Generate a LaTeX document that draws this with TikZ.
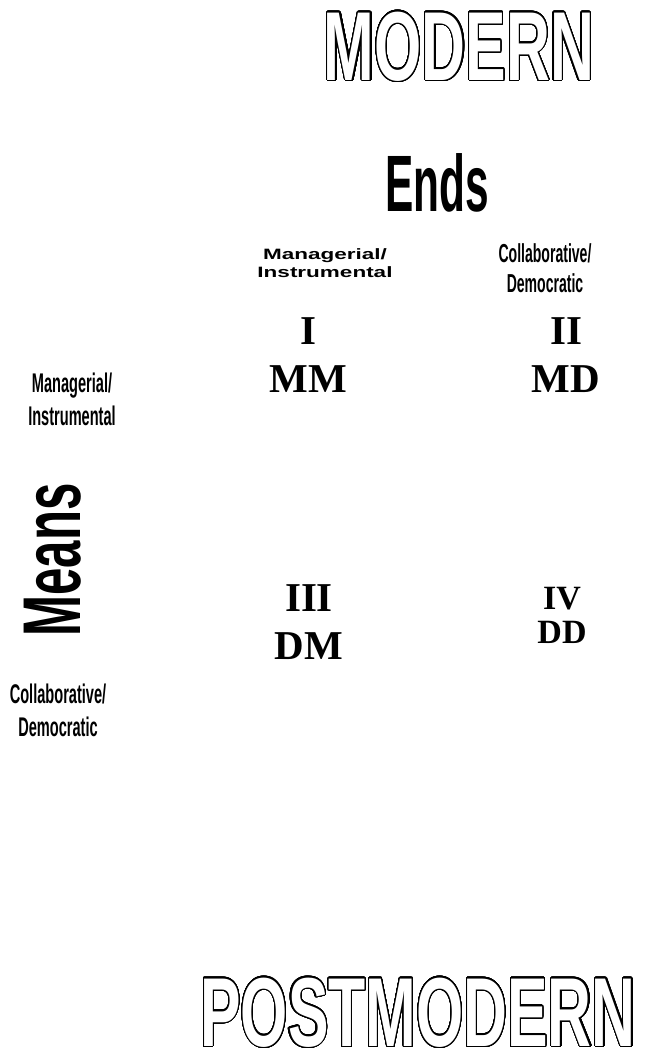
\documentclass[tikz,border=0pt]{standalone}
\usepackage{fontspec}
\usepackage{contour}
\usepackage{tikz}
\setmainfont{Liberation Serif}
\newfontfamily\outfont[FakeStretch=0.62]{Liberation Sans}
\newfontfamily\endsfont[FakeStretch=0.53]{Liberation Sans}
\newfontfamily\meansfont[FakeStretch=0.6]{Liberation Sans}
\newfontfamily\labfont[FakeStretch=0.54]{Liberation Sans}
\newfontfamily\widefont[FakeStretch=1.5]{Liberation Sans}
\contourlength{1.2pt}
\contournumber{48}
\newcommand{\hollow}[1]{\contour{black}{\textcolor{white}{#1}}}
\tikzset{
  era/.style={inner sep=0pt, font=\outfont\bfseries\fontsize{98}{98}\selectfont},
  axis/.style={inner sep=0pt},
  cond/.style={inner sep=0pt, align=center, font=\labfont\bfseries\fontsize{27}{33}\selectfont},
  wide/.style={inner sep=0pt, align=center, font=\widefont\bfseries\fontsize{15}{18}\selectfont},
  quad/.style={inner sep=0pt, align=center, font=\bfseries\fontsize{41}{48}\selectfont}
}
\begin{document}
\begin{tikzpicture}[x=1pt,y=-1pt]
\useasboundingbox (0,0) rectangle (648,1060);
% titles
\node[era] (modern) at (459,47) {\hollow{MODERN}};
\node[era] (postmodern) at (418,1013) {\hollow{POSTMODERN}};
% axes
\node[axis, font=\endsfont\bfseries\fontsize{80}{80}\selectfont] (ends) at (437,183) {Ends};
\node[axis, rotate=90, font=\meansfont\bfseries\fontsize{82}{82}\selectfont] (means) at (53,560) {Means};
% column heads
\node[wide] (endsmi) at (325,263) {Managerial/\\Instrumental};
\node[cond, font=\labfont\bfseries\fontsize{26}{30}\selectfont] (endscd) at (545,268) {Collaborative/\\Democratic};
% row heads
\node[cond] (meansmi) at (72,399) {Managerial/\\Instrumental};
\node[cond] (meanscd) at (58,710) {Collaborative/\\Democratic};
% quadrants
\node[quad] (mm) at (308,355) {I\\MM};
\node[quad] (md) at (566,355) {II\\MD};
\node[quad] (dm) at (309,622) {III\\DM};
\node[quad, font=\bfseries\fontsize{34}{34}\selectfont] (dd) at (562,615) {IV\\DD};
\end{tikzpicture}
\end{document}
